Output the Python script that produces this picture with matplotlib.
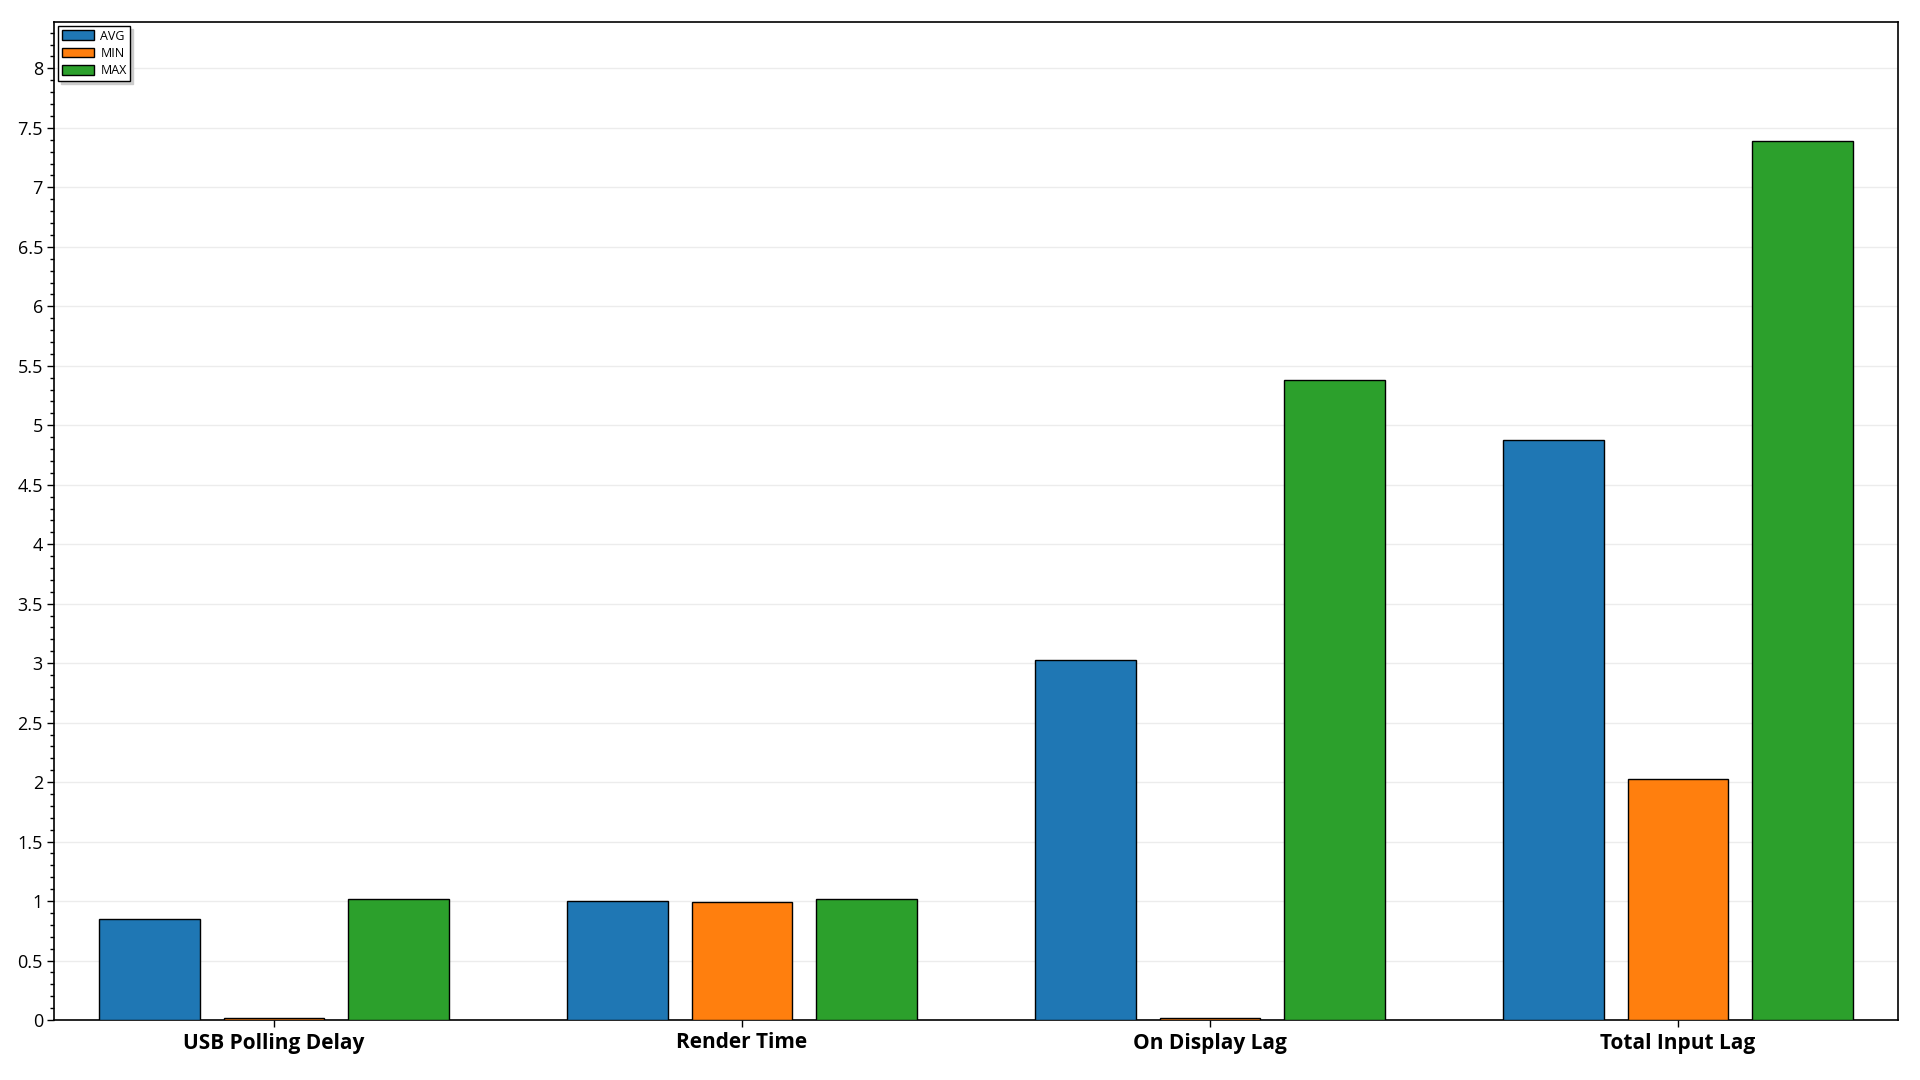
import numpy as np
import matplotlib.pyplot as plt
from matplotlib.ticker import MultipleLocator, FuncFormatter

categories = ['USB Polling Delay', 'Render Time', 'On Display Lag', 'Total Input Lag']
avg_vals = [0.85, 1.00, 3.03, 4.88]
min_vals = [0.02, 0.99, 0.02, 2.03]
max_vals = [1.02, 1.02, 5.38, 7.39]
series_names = ['AVG', 'MIN', 'MAX']
colors = ['#1f77b4', '#ff7f0e', '#2ca02c']

plt.rcParams['font.family'] = ['Open Sans', 'DejaVu Sans']

fig = plt.figure(figsize=(19.2, 10.8), dpi=100)
ax = fig.add_axes([54 / 1920, 60 / 1080, 1844 / 1920, 998 / 1080])

x = np.arange(len(categories))
width = 0.215
offsets = [-0.266, 0.0, 0.266]
for vals, name, col, off in zip([avg_vals, min_vals, max_vals], series_names, colors, offsets):
    ax.bar(x + off, vals, width, color=col, edgecolor='black', linewidth=1.0, label=name, zorder=3)

ax.set_xlim(-0.47, 3.47)
ax.set_ylim(0, 8.39)
ax.yaxis.set_major_locator(MultipleLocator(0.5))
ax.yaxis.set_minor_locator(MultipleLocator(0.1))
ax.yaxis.set_major_formatter(FuncFormatter(lambda v, p: ('%g' % v)))
ax.grid(axis='y', color='#ececec', linewidth=1, zorder=0)
ax.set_axisbelow(True)

ax.set_xticks(x)
ax.set_xticklabels(categories, fontsize=15, fontweight='bold')
ax.tick_params(axis='x', length=5, width=1, pad=4)
ax.tick_params(axis='y', which='major', length=5, width=1, labelsize=13, pad=3)
ax.tick_params(axis='y', which='minor', length=3, width=1)
for sp in ax.spines.values():
    sp.set_linewidth(1.2)

leg = ax.legend(loc='upper left', fontsize=9, fancybox=False,
                shadow={'color': '#cccccc', 'alpha': 1}, framealpha=1,
                edgecolor='black', handlelength=2.6, handleheight=0.8,
                borderpad=0.3, labelspacing=0.35, handletextpad=0.5,
                borderaxespad=0.3)
leg.get_frame().set_linewidth(1.0)

fig.savefig('out.png', dpi=100)
